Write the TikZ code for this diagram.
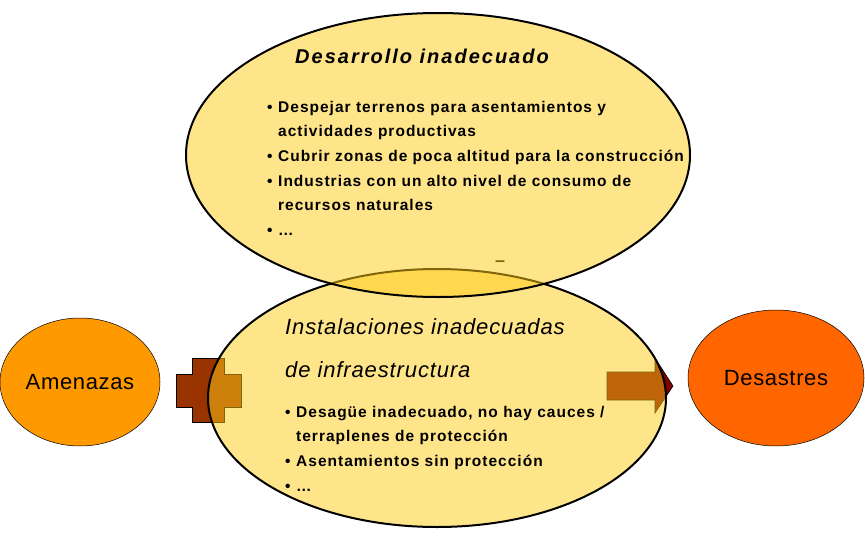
\documentclass[tikz,border=0pt]{standalone}
\usepackage{fontspec}
\setmainfont{Liberation Sans}
\usetikzlibrary{positioning, shapes.geometric}

\definecolor{yolk}{RGB}{255,203,21}
\definecolor{amber}{RGB}{255,153,0}
\definecolor{blaze}{RGB}{255,102,0}
\definecolor{rust}{RGB}{153,51,0}
\definecolor{garnet}{RGB}{128,0,0}

\begin{document}
\begin{tikzpicture}[x=1pt, y=-1pt,
    bubble/.style={ellipse, draw, line width=2pt, fill=yolk, fill opacity=0.5, inner sep=0pt},
    pole/.style={ellipse, draw, line width=0.5pt, inner sep=0pt, font=\fontsize{22}{26}\selectfont\addfontfeature{LetterSpace=3}},
    heading/.style={anchor=base west, inner sep=0pt, font=\itshape\fontsize{22}{43}\selectfont\addfontfeature{LetterSpace=4}},
    list/.style={anchor=base west, inner sep=0pt, font=\bfseries\fontsize{15.5}{24.7}\selectfont\addfontfeature{LetterSpace=6.5}}]

    \useasboundingbox (0,0) rectangle (865,554);

    % Side ellipses
    \node[pole, fill=amber, minimum width=160pt, minimum height=128pt] (amenazas) at (80,382) {Amenazas};
    \node[pole, fill=blaze, minimum width=176pt, minimum height=136pt] (desastres) at (776,378) {Desastres};

    % Plus and arrow, under the lower ellipse
    \draw[fill=rust, line width=0.6pt] (192,358) -- (224,358) -- (224,374) -- (241,374) -- (241,407)
        -- (224,407) -- (224,422) -- (192,422) -- (192,407) -- (176,407) -- (176,374) -- (192,374) -- cycle;
    \draw[fill=garnet, line width=0.6pt] (607,372) -- (655,372) -- (655,358) -- (673,386)
        -- (655,413) -- (655,400) -- (607,400) -- cycle;
    \node[anchor=base, inner sep=0pt, font=\bfseries\fontsize{18}{20}\selectfont] (raya) at (500,266) {–};

    % Main ellipses
    \node[bubble, minimum width=458pt, minimum height=258pt] (infra) at (437,398) {};
    \node[bubble, minimum width=504pt, minimum height=284pt] (desarrollo) at (438,155) {};

    % Texts
    \node[heading, font=\bfseries\itshape\fontsize{20}{22}\selectfont\addfontfeature{LetterSpace=10}] (tituloA) at (295,63) {Desarrollo inadecuado};
    \node[list] (listaA) at (267,112) {\begin{tabular}[t]{@{}p{11pt}@{}l@{}}
        •&Despejar terrenos para asentamientos y\\
        &actividades productivas\\
        •&Cubrir zonas de poca altitud para la construcción\\
        •&Industrias con un alto nivel de consumo de\\
        &recursos naturales\\
        •&…
    \end{tabular}};
    \node[heading] (tituloB) at (285,334) {\begin{tabular}[t]{@{}l@{}}
        Instalaciones inadecuadas\\
        de infraestructura
    \end{tabular}};
    \node[list] (listaB) at (285,417) {\begin{tabular}[t]{@{}p{11pt}@{}l@{}}
        •&Desagüe inadecuado, no hay cauces /\\
        &terraplenes de protección\\
        •&Asentamientos sin protección\\
        •&…
    \end{tabular}};
\end{tikzpicture}
\end{document}
